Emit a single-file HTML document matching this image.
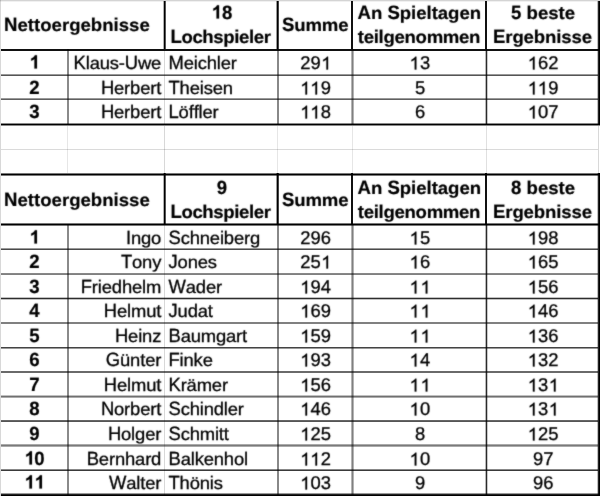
<!DOCTYPE html>
<html><head><meta charset="utf-8"><style>
html,body{margin:0;padding:0;background:#fff;}
body{width:600px;height:496px;position:relative;overflow:hidden;}
#r,#tx{position:absolute;left:0;top:0;width:600px;height:496px;}
#r{filter:grayscale(1);background:#fff;}
#r>div.l{mix-blend-mode:multiply;}
#tx{filter:url(#soft);}
#r div{position:absolute;}
.t{text-rendering:geometricPrecision;font-kerning:none;font-family:"Liberation Sans",sans-serif;font-size:18.4px;line-height:20px;height:20px;white-space:nowrap;color:#000;}
.r{-webkit-text-stroke:0.3px #000;}
.c,.d,.a,.x{display:inline-block;transform-origin:0 16.4px;}
.r .c{transform:scaleY(1.043);}
.b .c{transform:scaleY(1.039);}
.r .d{transform:scaleY(1.0);}
.b .d{transform:scaleY(1.03);}
.r .a{transform:scaleY(0.99);}
.b .a{transform:scaleY(0.987);}
.r .x{transform:scaleY(0.942);}
.b .x{transform:scaleY(0.942);}
.one{display:inline-block;width:0.5562em;height:0.7324em;vertical-align:baseline;overflow:visible;}
.b{font-weight:bold;font-size:18.6px;-webkit-text-stroke:0.2px #000;}
</style></head><body>
<svg width="0" height="0" style="position:absolute"><filter id="soft" x="0" y="0" width="100%" height="100%"><feConvolveMatrix order="3" kernelMatrix="1 3 1 3 24 3 1 3 1" divisor="40" edgeMode="none"/></filter></svg>
<div id="r">
<div class="l" style="left:0px;top:0px;width:1px;height:496px;background:#d8d8d8"></div>
<div class="l" style="left:0px;top:0px;width:600px;height:1px;background:#d4d4d4"></div>
<div class="l" style="left:0px;top:1px;width:600px;height:1px;background:#f0f0f0"></div>
<div class="l" style="left:67px;top:126px;width:1px;height:47px;background:#e6e6e6"></div>
<div class="l" style="left:164px;top:126px;width:1px;height:47px;background:#d8d8d8"></div>
<div class="l" style="left:277px;top:126px;width:1px;height:47px;background:#e6e6e6"></div>
<div class="l" style="left:352px;top:126px;width:1px;height:47px;background:#e6e6e6"></div>
<div class="l" style="left:486px;top:126px;width:1px;height:47px;background:#e0e0e0"></div>
<div class="l" style="left:598px;top:126px;width:1px;height:47px;background:#d8d8d8"></div>
<div class="l" style="left:1px;top:149px;width:597px;height:1px;background:#dadada"></div>
<div class="l" style="left:163px;top:1px;width:1px;height:48px;background:#b0b0b0"></div>
<div class="l" style="left:164px;top:1px;width:1px;height:48px;background:#000"></div>
<div class="l" style="left:165px;top:1px;width:1px;height:48px;background:#555"></div>
<div class="l" style="left:276px;top:1px;width:1px;height:48px;background:#999"></div>
<div class="l" style="left:277px;top:1px;width:1px;height:48px;background:#000"></div>
<div class="l" style="left:278px;top:1px;width:1px;height:48px;background:#444"></div>
<div class="l" style="left:351px;top:1px;width:1px;height:48px;background:#111"></div>
<div class="l" style="left:352px;top:1px;width:1px;height:48px;background:#111"></div>
<div class="l" style="left:485px;top:1px;width:1px;height:48px;background:#111"></div>
<div class="l" style="left:486px;top:1px;width:1px;height:48px;background:#111"></div>
<div class="l" style="left:597px;top:1px;width:1px;height:48px;background:#c0c0c0"></div>
<div class="l" style="left:598px;top:1px;width:1px;height:48px;background:#222"></div>
<div class="l" style="left:599px;top:1px;width:1px;height:48px;background:#000"></div>
<div class="l" style="left:67px;top:49px;width:1px;height:76px;background:#8a8a8a"></div>
<div class="l" style="left:68px;top:49px;width:1px;height:76px;background:#8a8a8a"></div>
<div class="l" style="left:164px;top:49px;width:1px;height:76px;background:#d8d8d8"></div>
<div class="l" style="left:277px;top:49px;width:1px;height:76px;background:#888"></div>
<div class="l" style="left:278px;top:49px;width:1px;height:76px;background:#888"></div>
<div class="l" style="left:351px;top:49px;width:1px;height:76px;background:#b4b4b4"></div>
<div class="l" style="left:352px;top:49px;width:1px;height:76px;background:#808080"></div>
<div class="l" style="left:353px;top:49px;width:1px;height:76px;background:#b4b4b4"></div>
<div class="l" style="left:485px;top:49px;width:1px;height:76px;background:#b8b8b8"></div>
<div class="l" style="left:486px;top:49px;width:1px;height:76px;background:#2a2a2a"></div>
<div class="l" style="left:487px;top:49px;width:1px;height:76px;background:#c8c8c8"></div>
<div class="l" style="left:597px;top:49px;width:1px;height:76px;background:#c0c0c0"></div>
<div class="l" style="left:598px;top:49px;width:1px;height:76px;background:#222"></div>
<div class="l" style="left:599px;top:49px;width:1px;height:76px;background:#000"></div>
<div class="l" style="left:1px;top:74px;width:597px;height:1px;background:#999"></div>
<div class="l" style="left:1px;top:75px;width:597px;height:1px;background:#555"></div>
<div class="l" style="left:1px;top:98px;width:597px;height:1px;background:#999"></div>
<div class="l" style="left:1px;top:99px;width:597px;height:1px;background:#606060"></div>
<div class="l" style="left:1px;top:49px;width:599px;height:1px;background:#111"></div>
<div class="l" style="left:1px;top:50px;width:599px;height:1px;background:#111"></div>
<div class="l" style="left:1px;top:123px;width:599px;height:1px;background:#888"></div>
<div class="l" style="left:1px;top:124px;width:599px;height:1px;background:#000"></div>
<div class="l" style="left:1px;top:125px;width:599px;height:1px;background:#888"></div>
<div class="l" style="left:163px;top:173px;width:1px;height:51px;background:#b0b0b0"></div>
<div class="l" style="left:164px;top:173px;width:1px;height:51px;background:#000"></div>
<div class="l" style="left:165px;top:173px;width:1px;height:51px;background:#555"></div>
<div class="l" style="left:276px;top:173px;width:1px;height:51px;background:#999"></div>
<div class="l" style="left:277px;top:173px;width:1px;height:51px;background:#000"></div>
<div class="l" style="left:278px;top:173px;width:1px;height:51px;background:#444"></div>
<div class="l" style="left:351px;top:173px;width:1px;height:51px;background:#111"></div>
<div class="l" style="left:352px;top:173px;width:1px;height:51px;background:#111"></div>
<div class="l" style="left:485px;top:173px;width:1px;height:51px;background:#111"></div>
<div class="l" style="left:486px;top:173px;width:1px;height:51px;background:#111"></div>
<div class="l" style="left:597px;top:173px;width:1px;height:51px;background:#c0c0c0"></div>
<div class="l" style="left:598px;top:173px;width:1px;height:51px;background:#222"></div>
<div class="l" style="left:599px;top:173px;width:1px;height:51px;background:#000"></div>
<div class="l" style="left:67px;top:224px;width:1px;height:272px;background:#8a8a8a"></div>
<div class="l" style="left:68px;top:224px;width:1px;height:272px;background:#8a8a8a"></div>
<div class="l" style="left:164px;top:224px;width:1px;height:272px;background:#d8d8d8"></div>
<div class="l" style="left:277px;top:224px;width:1px;height:272px;background:#888"></div>
<div class="l" style="left:278px;top:224px;width:1px;height:272px;background:#888"></div>
<div class="l" style="left:351px;top:224px;width:1px;height:272px;background:#b4b4b4"></div>
<div class="l" style="left:352px;top:224px;width:1px;height:272px;background:#808080"></div>
<div class="l" style="left:353px;top:224px;width:1px;height:272px;background:#b4b4b4"></div>
<div class="l" style="left:485px;top:224px;width:1px;height:272px;background:#b8b8b8"></div>
<div class="l" style="left:486px;top:224px;width:1px;height:272px;background:#2a2a2a"></div>
<div class="l" style="left:487px;top:224px;width:1px;height:272px;background:#c8c8c8"></div>
<div class="l" style="left:597px;top:224px;width:1px;height:272px;background:#c0c0c0"></div>
<div class="l" style="left:598px;top:224px;width:1px;height:272px;background:#222"></div>
<div class="l" style="left:599px;top:224px;width:1px;height:272px;background:#000"></div>
<div class="l" style="left:1px;top:248px;width:597px;height:1px;background:#999"></div>
<div class="l" style="left:1px;top:249px;width:597px;height:1px;background:#4a4a4a"></div>
<div class="l" style="left:1px;top:273px;width:597px;height:1px;background:#888"></div>
<div class="l" style="left:1px;top:274px;width:597px;height:1px;background:#808080"></div>
<div class="l" style="left:1px;top:297px;width:597px;height:1px;background:#c0c0c0"></div>
<div class="l" style="left:1px;top:298px;width:597px;height:1px;background:#2d2d2d"></div>
<div class="l" style="left:1px;top:299px;width:597px;height:1px;background:#c0c0c0"></div>
<div class="l" style="left:1px;top:322px;width:597px;height:1px;background:#808080"></div>
<div class="l" style="left:1px;top:323px;width:597px;height:1px;background:#808080"></div>
<div class="l" style="left:1px;top:347px;width:597px;height:1px;background:#444"></div>
<div class="l" style="left:1px;top:348px;width:597px;height:1px;background:#999"></div>
<div class="l" style="left:1px;top:371px;width:597px;height:1px;background:#6a6a6a"></div>
<div class="l" style="left:1px;top:372px;width:597px;height:1px;background:#6a6a6a"></div>
<div class="l" style="left:1px;top:395px;width:597px;height:1px;background:#c0c0c0"></div>
<div class="l" style="left:1px;top:396px;width:597px;height:1px;background:#707070"></div>
<div class="l" style="left:1px;top:397px;width:597px;height:1px;background:#aaa"></div>
<div class="l" style="left:1px;top:420px;width:597px;height:1px;background:#666"></div>
<div class="l" style="left:1px;top:421px;width:597px;height:1px;background:#555"></div>
<div class="l" style="left:1px;top:444px;width:597px;height:1px;background:#aaa"></div>
<div class="l" style="left:1px;top:445px;width:597px;height:1px;background:#7a7a7a"></div>
<div class="l" style="left:1px;top:446px;width:597px;height:1px;background:#aaa"></div>
<div class="l" style="left:1px;top:469px;width:597px;height:1px;background:#888"></div>
<div class="l" style="left:1px;top:470px;width:597px;height:1px;background:#3a3a3a"></div>
<div class="l" style="left:1px;top:173px;width:599px;height:1px;background:#777"></div>
<div class="l" style="left:1px;top:174px;width:599px;height:1px;background:#000"></div>
<div class="l" style="left:1px;top:175px;width:599px;height:1px;background:#777"></div>
<div class="l" style="left:1px;top:223px;width:599px;height:1px;background:#777"></div>
<div class="l" style="left:1px;top:224px;width:599px;height:1px;background:#000"></div>
<div class="l" style="left:1px;top:225px;width:599px;height:1px;background:#777"></div>
<div class="l" style="left:1px;top:493px;width:599px;height:1px;background:#999"></div>
<div class="l" style="left:1px;top:494px;width:599px;height:1px;background:#222"></div>
<div class="l" style="left:1px;top:495px;width:599px;height:1px;background:#000"></div>
<div id="tx">
<div class="t b" style="left:4px;top:15px;width:160px;text-align:left"><span class="c">N</span><span class="x">e</span><span class="a">t</span><span class="a">t</span><span class="x">o</span><span class="x">e</span><span class="x">r</span><span class="x">g</span><span class="x">e</span><span class="a">b</span><span class="x">n</span><span class="a">i</span><span class="x">s</span><span class="x">s</span><span class="x">e</span></div>
<div class="t b" style="left:166px;top:3px;width:111px;text-align:center;transform:translate(0.4px,0px)"><span class="d"><svg class="one" viewBox="0 -1500 1139 1500"><path d="M845 0L564 0L564 -1029Q445 -923 209 -845L209 -1078Q330 -1117 450 -1209Q575 -1307 620 -1430L845 -1430Z" stroke="#000" stroke-width="22"/></svg></span><span class="d">8</span></div>
<div class="t b" style="left:165px;top:27px;width:111px;text-align:center;letter-spacing:-0.4px"><span class="c">L</span><span class="x">o</span><span class="x">c</span><span class="a">h</span><span class="x">s</span><span class="x">p</span><span class="a">i</span><span class="x">e</span><span class="a">l</span><span class="x">e</span><span class="x">r</span></div>
<div class="t b" style="left:279px;top:15px;width:72px;text-align:center;letter-spacing:-0.2px;transform:translate(0.2px,0px)"><span class="c">S</span><span class="x">u</span><span class="x">m</span><span class="x">m</span><span class="x">e</span></div>
<div class="t b" style="left:353px;top:3px;width:132px;text-align:center;letter-spacing:-0.05px;transform:translate(0.3px,0px)"><span class="c">A</span><span class="x">n</span> <span class="c">S</span><span class="x">p</span><span class="a">i</span><span class="x">e</span><span class="a">l</span><span class="a">t</span><span class="x">a</span><span class="x">g</span><span class="x">e</span><span class="x">n</span></div>
<div class="t b" style="left:353px;top:27px;width:132px;text-align:center;letter-spacing:-0.32px"><span class="a">t</span><span class="x">e</span><span class="a">i</span><span class="a">l</span><span class="x">g</span><span class="x">e</span><span class="x">n</span><span class="x">o</span><span class="x">m</span><span class="x">m</span><span class="x">e</span><span class="x">n</span></div>
<div class="t b" style="left:487px;top:3px;width:111px;text-align:center;transform:translate(0.6px,0px)"><span class="d">5</span> <span class="a">b</span><span class="x">e</span><span class="x">s</span><span class="a">t</span><span class="x">e</span></div>
<div class="t b" style="left:487px;top:27px;width:111px;text-align:center;letter-spacing:-0.13px"><span class="c">E</span><span class="x">r</span><span class="x">g</span><span class="x">e</span><span class="a">b</span><span class="x">n</span><span class="a">i</span><span class="x">s</span><span class="x">s</span><span class="x">e</span></div>
<div class="t b" style="left:1px;top:53px;width:66px;text-align:center;transform:translate(0.3px,0px)"><span class="d"><svg class="one" viewBox="0 -1500 1139 1500"><path d="M845 0L564 0L564 -1029Q445 -923 209 -845L209 -1078Q330 -1117 450 -1209Q575 -1307 620 -1430L845 -1430Z" stroke="#000" stroke-width="22"/></svg></span></div>
<div class="t r" style="left:69px;top:53px;width:93px;text-align:right;letter-spacing:-0.15px;transform:translate(-0.8px,0px)"><span class="c">K</span><span class="a">l</span><span class="x">a</span><span class="x">u</span><span class="x">s</span>-<span class="c">U</span><span class="x">w</span><span class="x">e</span></div>
<div class="t r" style="left:168px;top:53px;width:109px;text-align:left;letter-spacing:-0.15px;transform:translate(0.5px,0px)"><span class="c">M</span><span class="x">e</span><span class="a">i</span><span class="x">c</span><span class="a">h</span><span class="a">l</span><span class="x">e</span><span class="x">r</span></div>
<div class="t r" style="left:279px;top:53px;width:73px;text-align:center;transform:translate(0.2px,0px)"><span class="d">2</span><span class="d">9</span><span class="d"><svg class="one" viewBox="0 -1500 1139 1500"><path d="M763 0L583 0L583 -1114Q518 -1054 412 -994Q307 -934 223 -903L223 -1072Q374 -1141 487 -1240Q600 -1338 647 -1430L763 -1430Z" stroke="#000" stroke-width="33"/></svg></span></div>
<div class="t r" style="left:353px;top:53px;width:133px;text-align:center;transform:translate(0.5px,0px)"><span class="d"><svg class="one" viewBox="0 -1500 1139 1500"><path d="M763 0L583 0L583 -1114Q518 -1054 412 -994Q307 -934 223 -903L223 -1072Q374 -1141 487 -1240Q600 -1338 647 -1430L763 -1430Z" stroke="#000" stroke-width="33"/></svg></span><span class="d">3</span></div>
<div class="t r" style="left:487px;top:53px;width:111px;text-align:center;transform:translate(0.7px,0px)"><span class="d"><svg class="one" viewBox="0 -1500 1139 1500"><path d="M763 0L583 0L583 -1114Q518 -1054 412 -994Q307 -934 223 -903L223 -1072Q374 -1141 487 -1240Q600 -1338 647 -1430L763 -1430Z" stroke="#000" stroke-width="33"/></svg></span><span class="d">6</span><span class="d">2</span></div>
<div class="t b" style="left:1px;top:78px;width:66px;text-align:center;transform:translate(0.3px,0px)"><span class="d">2</span></div>
<div class="t r" style="left:69px;top:78px;width:93px;text-align:right;letter-spacing:-0.15px;transform:translate(-0.8px,0px)"><span class="c">H</span><span class="x">e</span><span class="x">r</span><span class="a">b</span><span class="x">e</span><span class="x">r</span><span class="a">t</span></div>
<div class="t r" style="left:168px;top:78px;width:109px;text-align:left;letter-spacing:-0.15px;transform:translate(0.5px,0px)"><span class="c">T</span><span class="a">h</span><span class="x">e</span><span class="a">i</span><span class="x">s</span><span class="x">e</span><span class="x">n</span></div>
<div class="t r" style="left:279px;top:78px;width:73px;text-align:center;transform:translate(0.2px,0px)"><span class="d"><svg class="one" viewBox="0 -1500 1139 1500"><path d="M763 0L583 0L583 -1114Q518 -1054 412 -994Q307 -934 223 -903L223 -1072Q374 -1141 487 -1240Q600 -1338 647 -1430L763 -1430Z" stroke="#000" stroke-width="33"/></svg></span><span class="d"><svg class="one" viewBox="0 -1500 1139 1500"><path d="M763 0L583 0L583 -1114Q518 -1054 412 -994Q307 -934 223 -903L223 -1072Q374 -1141 487 -1240Q600 -1338 647 -1430L763 -1430Z" stroke="#000" stroke-width="33"/></svg></span><span class="d">9</span></div>
<div class="t r" style="left:353px;top:78px;width:133px;text-align:center;transform:translate(0.5px,0px)"><span class="d">5</span></div>
<div class="t r" style="left:487px;top:78px;width:111px;text-align:center;transform:translate(0.7px,0px)"><span class="d"><svg class="one" viewBox="0 -1500 1139 1500"><path d="M763 0L583 0L583 -1114Q518 -1054 412 -994Q307 -934 223 -903L223 -1072Q374 -1141 487 -1240Q600 -1338 647 -1430L763 -1430Z" stroke="#000" stroke-width="33"/></svg></span><span class="d"><svg class="one" viewBox="0 -1500 1139 1500"><path d="M763 0L583 0L583 -1114Q518 -1054 412 -994Q307 -934 223 -903L223 -1072Q374 -1141 487 -1240Q600 -1338 647 -1430L763 -1430Z" stroke="#000" stroke-width="33"/></svg></span><span class="d">9</span></div>
<div class="t b" style="left:1px;top:102px;width:66px;text-align:center;transform:translate(0.3px,0px)"><span class="d">3</span></div>
<div class="t r" style="left:69px;top:102px;width:93px;text-align:right;letter-spacing:-0.15px;transform:translate(-0.8px,0px)"><span class="c">H</span><span class="x">e</span><span class="x">r</span><span class="a">b</span><span class="x">e</span><span class="x">r</span><span class="a">t</span></div>
<div class="t r" style="left:168px;top:102px;width:109px;text-align:left;letter-spacing:-0.15px;transform:translate(0.5px,0px)"><span class="c">L</span><span class="x">ö</span><span class="a">f</span><span class="a">f</span><span class="a">l</span><span class="x">e</span><span class="x">r</span></div>
<div class="t r" style="left:279px;top:102px;width:73px;text-align:center;transform:translate(0.2px,0px)"><span class="d"><svg class="one" viewBox="0 -1500 1139 1500"><path d="M763 0L583 0L583 -1114Q518 -1054 412 -994Q307 -934 223 -903L223 -1072Q374 -1141 487 -1240Q600 -1338 647 -1430L763 -1430Z" stroke="#000" stroke-width="33"/></svg></span><span class="d"><svg class="one" viewBox="0 -1500 1139 1500"><path d="M763 0L583 0L583 -1114Q518 -1054 412 -994Q307 -934 223 -903L223 -1072Q374 -1141 487 -1240Q600 -1338 647 -1430L763 -1430Z" stroke="#000" stroke-width="33"/></svg></span><span class="d">8</span></div>
<div class="t r" style="left:353px;top:102px;width:133px;text-align:center;transform:translate(0.5px,0px)"><span class="d">6</span></div>
<div class="t r" style="left:487px;top:102px;width:111px;text-align:center;transform:translate(0.7px,0px)"><span class="d"><svg class="one" viewBox="0 -1500 1139 1500"><path d="M763 0L583 0L583 -1114Q518 -1054 412 -994Q307 -934 223 -903L223 -1072Q374 -1141 487 -1240Q600 -1338 647 -1430L763 -1430Z" stroke="#000" stroke-width="33"/></svg></span><span class="d">0</span><span class="d">7</span></div>
<div class="t b" style="left:4px;top:190px;width:160px;text-align:left"><span class="c">N</span><span class="x">e</span><span class="a">t</span><span class="a">t</span><span class="x">o</span><span class="x">e</span><span class="x">r</span><span class="x">g</span><span class="x">e</span><span class="a">b</span><span class="x">n</span><span class="a">i</span><span class="x">s</span><span class="x">s</span><span class="x">e</span></div>
<div class="t b" style="left:166px;top:178px;width:111px;text-align:center;transform:translate(0.4px,0px)"><span class="d">9</span></div>
<div class="t b" style="left:165px;top:202px;width:111px;text-align:center;letter-spacing:-0.4px"><span class="c">L</span><span class="x">o</span><span class="x">c</span><span class="a">h</span><span class="x">s</span><span class="x">p</span><span class="a">i</span><span class="x">e</span><span class="a">l</span><span class="x">e</span><span class="x">r</span></div>
<div class="t b" style="left:279px;top:190px;width:72px;text-align:center;letter-spacing:-0.2px;transform:translate(0.2px,0px)"><span class="c">S</span><span class="x">u</span><span class="x">m</span><span class="x">m</span><span class="x">e</span></div>
<div class="t b" style="left:353px;top:178px;width:132px;text-align:center;letter-spacing:-0.05px;transform:translate(0.3px,0px)"><span class="c">A</span><span class="x">n</span> <span class="c">S</span><span class="x">p</span><span class="a">i</span><span class="x">e</span><span class="a">l</span><span class="a">t</span><span class="x">a</span><span class="x">g</span><span class="x">e</span><span class="x">n</span></div>
<div class="t b" style="left:353px;top:202px;width:132px;text-align:center;letter-spacing:-0.32px"><span class="a">t</span><span class="x">e</span><span class="a">i</span><span class="a">l</span><span class="x">g</span><span class="x">e</span><span class="x">n</span><span class="x">o</span><span class="x">m</span><span class="x">m</span><span class="x">e</span><span class="x">n</span></div>
<div class="t b" style="left:487px;top:178px;width:111px;text-align:center;transform:translate(0.6px,0px)"><span class="d">8</span> <span class="a">b</span><span class="x">e</span><span class="x">s</span><span class="a">t</span><span class="x">e</span></div>
<div class="t b" style="left:487px;top:202px;width:111px;text-align:center;letter-spacing:-0.13px"><span class="c">E</span><span class="x">r</span><span class="x">g</span><span class="x">e</span><span class="a">b</span><span class="x">n</span><span class="a">i</span><span class="x">s</span><span class="x">s</span><span class="x">e</span></div>
<div class="t b" style="left:1px;top:228px;width:66px;text-align:center;transform:translate(0.3px,0px)"><span class="d"><svg class="one" viewBox="0 -1500 1139 1500"><path d="M845 0L564 0L564 -1029Q445 -923 209 -845L209 -1078Q330 -1117 450 -1209Q575 -1307 620 -1430L845 -1430Z" stroke="#000" stroke-width="22"/></svg></span></div>
<div class="t r" style="left:69px;top:228px;width:93px;text-align:right;letter-spacing:-0.15px;transform:translate(-0.8px,0px)"><span class="c">I</span><span class="x">n</span><span class="x">g</span><span class="x">o</span></div>
<div class="t r" style="left:168px;top:228px;width:109px;text-align:left;letter-spacing:-0.15px;transform:translate(0.5px,0px)"><span class="c">S</span><span class="x">c</span><span class="a">h</span><span class="x">n</span><span class="x">e</span><span class="a">i</span><span class="a">b</span><span class="x">e</span><span class="x">r</span><span class="x">g</span></div>
<div class="t r" style="left:279px;top:228px;width:73px;text-align:center;transform:translate(0.2px,0px)"><span class="d">2</span><span class="d">9</span><span class="d">6</span></div>
<div class="t r" style="left:353px;top:228px;width:133px;text-align:center;transform:translate(0.5px,0px)"><span class="d"><svg class="one" viewBox="0 -1500 1139 1500"><path d="M763 0L583 0L583 -1114Q518 -1054 412 -994Q307 -934 223 -903L223 -1072Q374 -1141 487 -1240Q600 -1338 647 -1430L763 -1430Z" stroke="#000" stroke-width="33"/></svg></span><span class="d">5</span></div>
<div class="t r" style="left:487px;top:228px;width:111px;text-align:center;transform:translate(0.7px,0px)"><span class="d"><svg class="one" viewBox="0 -1500 1139 1500"><path d="M763 0L583 0L583 -1114Q518 -1054 412 -994Q307 -934 223 -903L223 -1072Q374 -1141 487 -1240Q600 -1338 647 -1430L763 -1430Z" stroke="#000" stroke-width="33"/></svg></span><span class="d">9</span><span class="d">8</span></div>
<div class="t b" style="left:1px;top:252px;width:66px;text-align:center;transform:translate(0.3px,0px)"><span class="d">2</span></div>
<div class="t r" style="left:69px;top:252px;width:93px;text-align:right;letter-spacing:-0.15px;transform:translate(-0.8px,0px)"><span class="c">T</span><span class="x">o</span><span class="x">n</span><span class="x">y</span></div>
<div class="t r" style="left:168px;top:252px;width:109px;text-align:left;letter-spacing:-0.15px;transform:translate(0.5px,0px)"><span class="c">J</span><span class="x">o</span><span class="x">n</span><span class="x">e</span><span class="x">s</span></div>
<div class="t r" style="left:279px;top:252px;width:73px;text-align:center;transform:translate(0.2px,0px)"><span class="d">2</span><span class="d">5</span><span class="d"><svg class="one" viewBox="0 -1500 1139 1500"><path d="M763 0L583 0L583 -1114Q518 -1054 412 -994Q307 -934 223 -903L223 -1072Q374 -1141 487 -1240Q600 -1338 647 -1430L763 -1430Z" stroke="#000" stroke-width="33"/></svg></span></div>
<div class="t r" style="left:353px;top:252px;width:133px;text-align:center;transform:translate(0.5px,0px)"><span class="d"><svg class="one" viewBox="0 -1500 1139 1500"><path d="M763 0L583 0L583 -1114Q518 -1054 412 -994Q307 -934 223 -903L223 -1072Q374 -1141 487 -1240Q600 -1338 647 -1430L763 -1430Z" stroke="#000" stroke-width="33"/></svg></span><span class="d">6</span></div>
<div class="t r" style="left:487px;top:252px;width:111px;text-align:center;transform:translate(0.7px,0px)"><span class="d"><svg class="one" viewBox="0 -1500 1139 1500"><path d="M763 0L583 0L583 -1114Q518 -1054 412 -994Q307 -934 223 -903L223 -1072Q374 -1141 487 -1240Q600 -1338 647 -1430L763 -1430Z" stroke="#000" stroke-width="33"/></svg></span><span class="d">6</span><span class="d">5</span></div>
<div class="t b" style="left:1px;top:277px;width:66px;text-align:center;transform:translate(0.3px,0px)"><span class="d">3</span></div>
<div class="t r" style="left:69px;top:277px;width:93px;text-align:right;letter-spacing:-0.15px;transform:translate(-0.8px,0px)"><span class="c">F</span><span class="x">r</span><span class="a">i</span><span class="x">e</span><span class="a">d</span><span class="a">h</span><span class="x">e</span><span class="a">l</span><span class="x">m</span></div>
<div class="t r" style="left:168px;top:277px;width:109px;text-align:left;letter-spacing:-0.15px;transform:translate(0.5px,0px)"><span class="c">W</span><span class="x">a</span><span class="a">d</span><span class="x">e</span><span class="x">r</span></div>
<div class="t r" style="left:279px;top:277px;width:73px;text-align:center;transform:translate(0.2px,0px)"><span class="d"><svg class="one" viewBox="0 -1500 1139 1500"><path d="M763 0L583 0L583 -1114Q518 -1054 412 -994Q307 -934 223 -903L223 -1072Q374 -1141 487 -1240Q600 -1338 647 -1430L763 -1430Z" stroke="#000" stroke-width="33"/></svg></span><span class="d">9</span><span class="d">4</span></div>
<div class="t r" style="left:353px;top:277px;width:133px;text-align:center;transform:translate(0.5px,0px)"><span class="d"><svg class="one" viewBox="0 -1500 1139 1500"><path d="M763 0L583 0L583 -1114Q518 -1054 412 -994Q307 -934 223 -903L223 -1072Q374 -1141 487 -1240Q600 -1338 647 -1430L763 -1430Z" stroke="#000" stroke-width="33"/></svg></span><span class="d"><svg class="one" viewBox="0 -1500 1139 1500"><path d="M763 0L583 0L583 -1114Q518 -1054 412 -994Q307 -934 223 -903L223 -1072Q374 -1141 487 -1240Q600 -1338 647 -1430L763 -1430Z" stroke="#000" stroke-width="33"/></svg></span></div>
<div class="t r" style="left:487px;top:277px;width:111px;text-align:center;transform:translate(0.7px,0px)"><span class="d"><svg class="one" viewBox="0 -1500 1139 1500"><path d="M763 0L583 0L583 -1114Q518 -1054 412 -994Q307 -934 223 -903L223 -1072Q374 -1141 487 -1240Q600 -1338 647 -1430L763 -1430Z" stroke="#000" stroke-width="33"/></svg></span><span class="d">5</span><span class="d">6</span></div>
<div class="t b" style="left:1px;top:301px;width:66px;text-align:center;transform:translate(0.3px,0px)"><span class="d">4</span></div>
<div class="t r" style="left:69px;top:301px;width:93px;text-align:right;letter-spacing:-0.15px;transform:translate(-0.8px,0px)"><span class="c">H</span><span class="x">e</span><span class="a">l</span><span class="x">m</span><span class="x">u</span><span class="a">t</span></div>
<div class="t r" style="left:168px;top:301px;width:109px;text-align:left;letter-spacing:-0.15px;transform:translate(0.5px,0px)"><span class="c">J</span><span class="x">u</span><span class="a">d</span><span class="x">a</span><span class="a">t</span></div>
<div class="t r" style="left:279px;top:301px;width:73px;text-align:center;transform:translate(0.2px,0px)"><span class="d"><svg class="one" viewBox="0 -1500 1139 1500"><path d="M763 0L583 0L583 -1114Q518 -1054 412 -994Q307 -934 223 -903L223 -1072Q374 -1141 487 -1240Q600 -1338 647 -1430L763 -1430Z" stroke="#000" stroke-width="33"/></svg></span><span class="d">6</span><span class="d">9</span></div>
<div class="t r" style="left:353px;top:301px;width:133px;text-align:center;transform:translate(0.5px,0px)"><span class="d"><svg class="one" viewBox="0 -1500 1139 1500"><path d="M763 0L583 0L583 -1114Q518 -1054 412 -994Q307 -934 223 -903L223 -1072Q374 -1141 487 -1240Q600 -1338 647 -1430L763 -1430Z" stroke="#000" stroke-width="33"/></svg></span><span class="d"><svg class="one" viewBox="0 -1500 1139 1500"><path d="M763 0L583 0L583 -1114Q518 -1054 412 -994Q307 -934 223 -903L223 -1072Q374 -1141 487 -1240Q600 -1338 647 -1430L763 -1430Z" stroke="#000" stroke-width="33"/></svg></span></div>
<div class="t r" style="left:487px;top:301px;width:111px;text-align:center;transform:translate(0.7px,0px)"><span class="d"><svg class="one" viewBox="0 -1500 1139 1500"><path d="M763 0L583 0L583 -1114Q518 -1054 412 -994Q307 -934 223 -903L223 -1072Q374 -1141 487 -1240Q600 -1338 647 -1430L763 -1430Z" stroke="#000" stroke-width="33"/></svg></span><span class="d">4</span><span class="d">6</span></div>
<div class="t b" style="left:1px;top:326px;width:66px;text-align:center;transform:translate(0.3px,0px)"><span class="d">5</span></div>
<div class="t r" style="left:69px;top:326px;width:93px;text-align:right;letter-spacing:-0.15px;transform:translate(-0.8px,0px)"><span class="c">H</span><span class="x">e</span><span class="a">i</span><span class="x">n</span><span class="x">z</span></div>
<div class="t r" style="left:168px;top:326px;width:109px;text-align:left;letter-spacing:-0.15px;transform:translate(0.5px,0px)"><span class="c">B</span><span class="x">a</span><span class="x">u</span><span class="x">m</span><span class="x">g</span><span class="x">a</span><span class="x">r</span><span class="a">t</span></div>
<div class="t r" style="left:279px;top:326px;width:73px;text-align:center;transform:translate(0.2px,0px)"><span class="d"><svg class="one" viewBox="0 -1500 1139 1500"><path d="M763 0L583 0L583 -1114Q518 -1054 412 -994Q307 -934 223 -903L223 -1072Q374 -1141 487 -1240Q600 -1338 647 -1430L763 -1430Z" stroke="#000" stroke-width="33"/></svg></span><span class="d">5</span><span class="d">9</span></div>
<div class="t r" style="left:353px;top:326px;width:133px;text-align:center;transform:translate(0.5px,0px)"><span class="d"><svg class="one" viewBox="0 -1500 1139 1500"><path d="M763 0L583 0L583 -1114Q518 -1054 412 -994Q307 -934 223 -903L223 -1072Q374 -1141 487 -1240Q600 -1338 647 -1430L763 -1430Z" stroke="#000" stroke-width="33"/></svg></span><span class="d"><svg class="one" viewBox="0 -1500 1139 1500"><path d="M763 0L583 0L583 -1114Q518 -1054 412 -994Q307 -934 223 -903L223 -1072Q374 -1141 487 -1240Q600 -1338 647 -1430L763 -1430Z" stroke="#000" stroke-width="33"/></svg></span></div>
<div class="t r" style="left:487px;top:326px;width:111px;text-align:center;transform:translate(0.7px,0px)"><span class="d"><svg class="one" viewBox="0 -1500 1139 1500"><path d="M763 0L583 0L583 -1114Q518 -1054 412 -994Q307 -934 223 -903L223 -1072Q374 -1141 487 -1240Q600 -1338 647 -1430L763 -1430Z" stroke="#000" stroke-width="33"/></svg></span><span class="d">3</span><span class="d">6</span></div>
<div class="t b" style="left:1px;top:350px;width:66px;text-align:center;transform:translate(0.3px,0px)"><span class="d">6</span></div>
<div class="t r" style="left:69px;top:350px;width:93px;text-align:right;letter-spacing:-0.15px;transform:translate(-0.8px,0px)"><span class="c">G</span><span class="x">ü</span><span class="x">n</span><span class="a">t</span><span class="x">e</span><span class="x">r</span></div>
<div class="t r" style="left:168px;top:350px;width:109px;text-align:left;letter-spacing:-0.15px;transform:translate(0.5px,0px)"><span class="c">F</span><span class="a">i</span><span class="x">n</span><span class="a">k</span><span class="x">e</span></div>
<div class="t r" style="left:279px;top:350px;width:73px;text-align:center;transform:translate(0.2px,0px)"><span class="d"><svg class="one" viewBox="0 -1500 1139 1500"><path d="M763 0L583 0L583 -1114Q518 -1054 412 -994Q307 -934 223 -903L223 -1072Q374 -1141 487 -1240Q600 -1338 647 -1430L763 -1430Z" stroke="#000" stroke-width="33"/></svg></span><span class="d">9</span><span class="d">3</span></div>
<div class="t r" style="left:353px;top:350px;width:133px;text-align:center;transform:translate(0.5px,0px)"><span class="d"><svg class="one" viewBox="0 -1500 1139 1500"><path d="M763 0L583 0L583 -1114Q518 -1054 412 -994Q307 -934 223 -903L223 -1072Q374 -1141 487 -1240Q600 -1338 647 -1430L763 -1430Z" stroke="#000" stroke-width="33"/></svg></span><span class="d">4</span></div>
<div class="t r" style="left:487px;top:350px;width:111px;text-align:center;transform:translate(0.7px,0px)"><span class="d"><svg class="one" viewBox="0 -1500 1139 1500"><path d="M763 0L583 0L583 -1114Q518 -1054 412 -994Q307 -934 223 -903L223 -1072Q374 -1141 487 -1240Q600 -1338 647 -1430L763 -1430Z" stroke="#000" stroke-width="33"/></svg></span><span class="d">3</span><span class="d">2</span></div>
<div class="t b" style="left:1px;top:375px;width:66px;text-align:center;transform:translate(0.3px,0px)"><span class="d">7</span></div>
<div class="t r" style="left:69px;top:375px;width:93px;text-align:right;letter-spacing:-0.15px;transform:translate(-0.8px,0px)"><span class="c">H</span><span class="x">e</span><span class="a">l</span><span class="x">m</span><span class="x">u</span><span class="a">t</span></div>
<div class="t r" style="left:168px;top:375px;width:109px;text-align:left;letter-spacing:-0.15px;transform:translate(0.5px,0px)"><span class="c">K</span><span class="x">r</span><span class="x">ä</span><span class="x">m</span><span class="x">e</span><span class="x">r</span></div>
<div class="t r" style="left:279px;top:375px;width:73px;text-align:center;transform:translate(0.2px,0px)"><span class="d"><svg class="one" viewBox="0 -1500 1139 1500"><path d="M763 0L583 0L583 -1114Q518 -1054 412 -994Q307 -934 223 -903L223 -1072Q374 -1141 487 -1240Q600 -1338 647 -1430L763 -1430Z" stroke="#000" stroke-width="33"/></svg></span><span class="d">5</span><span class="d">6</span></div>
<div class="t r" style="left:353px;top:375px;width:133px;text-align:center;transform:translate(0.5px,0px)"><span class="d"><svg class="one" viewBox="0 -1500 1139 1500"><path d="M763 0L583 0L583 -1114Q518 -1054 412 -994Q307 -934 223 -903L223 -1072Q374 -1141 487 -1240Q600 -1338 647 -1430L763 -1430Z" stroke="#000" stroke-width="33"/></svg></span><span class="d"><svg class="one" viewBox="0 -1500 1139 1500"><path d="M763 0L583 0L583 -1114Q518 -1054 412 -994Q307 -934 223 -903L223 -1072Q374 -1141 487 -1240Q600 -1338 647 -1430L763 -1430Z" stroke="#000" stroke-width="33"/></svg></span></div>
<div class="t r" style="left:487px;top:375px;width:111px;text-align:center;transform:translate(0.7px,0px)"><span class="d"><svg class="one" viewBox="0 -1500 1139 1500"><path d="M763 0L583 0L583 -1114Q518 -1054 412 -994Q307 -934 223 -903L223 -1072Q374 -1141 487 -1240Q600 -1338 647 -1430L763 -1430Z" stroke="#000" stroke-width="33"/></svg></span><span class="d">3</span><span class="d"><svg class="one" viewBox="0 -1500 1139 1500"><path d="M763 0L583 0L583 -1114Q518 -1054 412 -994Q307 -934 223 -903L223 -1072Q374 -1141 487 -1240Q600 -1338 647 -1430L763 -1430Z" stroke="#000" stroke-width="33"/></svg></span></div>
<div class="t b" style="left:1px;top:399px;width:66px;text-align:center;transform:translate(0.3px,0px)"><span class="d">8</span></div>
<div class="t r" style="left:69px;top:399px;width:93px;text-align:right;letter-spacing:-0.15px;transform:translate(-0.8px,0px)"><span class="c">N</span><span class="x">o</span><span class="x">r</span><span class="a">b</span><span class="x">e</span><span class="x">r</span><span class="a">t</span></div>
<div class="t r" style="left:168px;top:399px;width:109px;text-align:left;letter-spacing:-0.15px;transform:translate(0.5px,0px)"><span class="c">S</span><span class="x">c</span><span class="a">h</span><span class="a">i</span><span class="x">n</span><span class="a">d</span><span class="a">l</span><span class="x">e</span><span class="x">r</span></div>
<div class="t r" style="left:279px;top:399px;width:73px;text-align:center;transform:translate(0.2px,0px)"><span class="d"><svg class="one" viewBox="0 -1500 1139 1500"><path d="M763 0L583 0L583 -1114Q518 -1054 412 -994Q307 -934 223 -903L223 -1072Q374 -1141 487 -1240Q600 -1338 647 -1430L763 -1430Z" stroke="#000" stroke-width="33"/></svg></span><span class="d">4</span><span class="d">6</span></div>
<div class="t r" style="left:353px;top:399px;width:133px;text-align:center;transform:translate(0.5px,0px)"><span class="d"><svg class="one" viewBox="0 -1500 1139 1500"><path d="M763 0L583 0L583 -1114Q518 -1054 412 -994Q307 -934 223 -903L223 -1072Q374 -1141 487 -1240Q600 -1338 647 -1430L763 -1430Z" stroke="#000" stroke-width="33"/></svg></span><span class="d">0</span></div>
<div class="t r" style="left:487px;top:399px;width:111px;text-align:center;transform:translate(0.7px,0px)"><span class="d"><svg class="one" viewBox="0 -1500 1139 1500"><path d="M763 0L583 0L583 -1114Q518 -1054 412 -994Q307 -934 223 -903L223 -1072Q374 -1141 487 -1240Q600 -1338 647 -1430L763 -1430Z" stroke="#000" stroke-width="33"/></svg></span><span class="d">3</span><span class="d"><svg class="one" viewBox="0 -1500 1139 1500"><path d="M763 0L583 0L583 -1114Q518 -1054 412 -994Q307 -934 223 -903L223 -1072Q374 -1141 487 -1240Q600 -1338 647 -1430L763 -1430Z" stroke="#000" stroke-width="33"/></svg></span></div>
<div class="t b" style="left:1px;top:424px;width:66px;text-align:center;transform:translate(0.3px,0px)"><span class="d">9</span></div>
<div class="t r" style="left:69px;top:424px;width:93px;text-align:right;letter-spacing:-0.15px;transform:translate(-0.8px,0px)"><span class="c">H</span><span class="x">o</span><span class="a">l</span><span class="x">g</span><span class="x">e</span><span class="x">r</span></div>
<div class="t r" style="left:168px;top:424px;width:109px;text-align:left;letter-spacing:-0.15px;transform:translate(0.5px,0px)"><span class="c">S</span><span class="x">c</span><span class="a">h</span><span class="x">m</span><span class="a">i</span><span class="a">t</span><span class="a">t</span></div>
<div class="t r" style="left:279px;top:424px;width:73px;text-align:center;transform:translate(0.2px,0px)"><span class="d"><svg class="one" viewBox="0 -1500 1139 1500"><path d="M763 0L583 0L583 -1114Q518 -1054 412 -994Q307 -934 223 -903L223 -1072Q374 -1141 487 -1240Q600 -1338 647 -1430L763 -1430Z" stroke="#000" stroke-width="33"/></svg></span><span class="d">2</span><span class="d">5</span></div>
<div class="t r" style="left:353px;top:424px;width:133px;text-align:center;transform:translate(0.5px,0px)"><span class="d">8</span></div>
<div class="t r" style="left:487px;top:424px;width:111px;text-align:center;transform:translate(0.7px,0px)"><span class="d"><svg class="one" viewBox="0 -1500 1139 1500"><path d="M763 0L583 0L583 -1114Q518 -1054 412 -994Q307 -934 223 -903L223 -1072Q374 -1141 487 -1240Q600 -1338 647 -1430L763 -1430Z" stroke="#000" stroke-width="33"/></svg></span><span class="d">2</span><span class="d">5</span></div>
<div class="t b" style="left:1px;top:449px;width:66px;text-align:center;transform:translate(0.3px,0px)"><span class="d"><svg class="one" viewBox="0 -1500 1139 1500"><path d="M845 0L564 0L564 -1029Q445 -923 209 -845L209 -1078Q330 -1117 450 -1209Q575 -1307 620 -1430L845 -1430Z" stroke="#000" stroke-width="22"/></svg></span><span class="d">0</span></div>
<div class="t r" style="left:69px;top:449px;width:93px;text-align:right;letter-spacing:-0.15px;transform:translate(-0.8px,0px)"><span class="c">B</span><span class="x">e</span><span class="x">r</span><span class="x">n</span><span class="a">h</span><span class="x">a</span><span class="x">r</span><span class="a">d</span></div>
<div class="t r" style="left:168px;top:449px;width:109px;text-align:left;letter-spacing:-0.15px;transform:translate(0.5px,0px)"><span class="c">B</span><span class="x">a</span><span class="a">l</span><span class="a">k</span><span class="x">e</span><span class="x">n</span><span class="a">h</span><span class="x">o</span><span class="a">l</span></div>
<div class="t r" style="left:279px;top:449px;width:73px;text-align:center;transform:translate(0.2px,0px)"><span class="d"><svg class="one" viewBox="0 -1500 1139 1500"><path d="M763 0L583 0L583 -1114Q518 -1054 412 -994Q307 -934 223 -903L223 -1072Q374 -1141 487 -1240Q600 -1338 647 -1430L763 -1430Z" stroke="#000" stroke-width="33"/></svg></span><span class="d"><svg class="one" viewBox="0 -1500 1139 1500"><path d="M763 0L583 0L583 -1114Q518 -1054 412 -994Q307 -934 223 -903L223 -1072Q374 -1141 487 -1240Q600 -1338 647 -1430L763 -1430Z" stroke="#000" stroke-width="33"/></svg></span><span class="d">2</span></div>
<div class="t r" style="left:353px;top:449px;width:133px;text-align:center;transform:translate(0.5px,0px)"><span class="d"><svg class="one" viewBox="0 -1500 1139 1500"><path d="M763 0L583 0L583 -1114Q518 -1054 412 -994Q307 -934 223 -903L223 -1072Q374 -1141 487 -1240Q600 -1338 647 -1430L763 -1430Z" stroke="#000" stroke-width="33"/></svg></span><span class="d">0</span></div>
<div class="t r" style="left:487px;top:449px;width:111px;text-align:center;transform:translate(0.7px,0px)"><span class="d">9</span><span class="d">7</span></div>
<div class="t b" style="left:1px;top:473px;width:66px;text-align:center;transform:translate(0.3px,0px)"><span class="d"><svg class="one" viewBox="0 -1500 1139 1500"><path d="M845 0L564 0L564 -1029Q445 -923 209 -845L209 -1078Q330 -1117 450 -1209Q575 -1307 620 -1430L845 -1430Z" stroke="#000" stroke-width="22"/></svg></span><span class="d"><svg class="one" viewBox="0 -1500 1139 1500"><path d="M845 0L564 0L564 -1029Q445 -923 209 -845L209 -1078Q330 -1117 450 -1209Q575 -1307 620 -1430L845 -1430Z" stroke="#000" stroke-width="22"/></svg></span></div>
<div class="t r" style="left:69px;top:473px;width:93px;text-align:right;letter-spacing:-0.15px;transform:translate(-0.8px,0px)"><span class="c">W</span><span class="x">a</span><span class="a">l</span><span class="a">t</span><span class="x">e</span><span class="x">r</span></div>
<div class="t r" style="left:168px;top:473px;width:109px;text-align:left;letter-spacing:-0.15px;transform:translate(0.5px,0px)"><span class="c">T</span><span class="a">h</span><span class="x">ö</span><span class="x">n</span><span class="a">i</span><span class="x">s</span></div>
<div class="t r" style="left:279px;top:473px;width:73px;text-align:center;transform:translate(0.2px,0px)"><span class="d"><svg class="one" viewBox="0 -1500 1139 1500"><path d="M763 0L583 0L583 -1114Q518 -1054 412 -994Q307 -934 223 -903L223 -1072Q374 -1141 487 -1240Q600 -1338 647 -1430L763 -1430Z" stroke="#000" stroke-width="33"/></svg></span><span class="d">0</span><span class="d">3</span></div>
<div class="t r" style="left:353px;top:473px;width:133px;text-align:center;transform:translate(0.5px,0px)"><span class="d">9</span></div>
<div class="t r" style="left:487px;top:473px;width:111px;text-align:center;transform:translate(0.7px,0px)"><span class="d">9</span><span class="d">6</span></div>
</div>
</div></body></html>
